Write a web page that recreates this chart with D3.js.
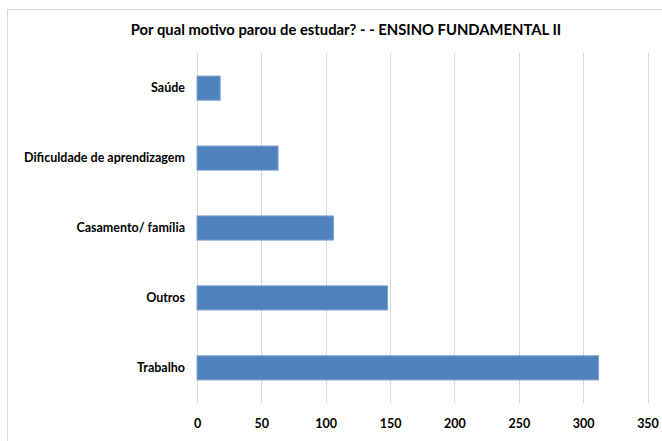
<!DOCTYPE html>
<html>
<head>
<meta charset="utf-8">
<script src="https://cdn.jsdelivr.net/npm/d3@7"></script>
<style>
  body { margin: 0; background: #fff; }
  text { font-family: Lato, "Open Sans", sans-serif; font-weight: bold; fill: #000; }
</style>
</head>
<body>
<div id="chart"></div>
<script>
// Data
const categories = ["Saúde", "Dificuldade de aprendizagem", "Casamento/ família", "Outros", "Trabalho"];
const values = [18, 63, 106, 148, 312];
const ticks = [0, 50, 100, 150, 200, 250, 300, 350];
const title = "Por qual motivo parou de estudar? - - ENSINO FUNDAMENTAL II";

const W = 662, H = 441;
const margin = { top: 53, right: 15, bottom: 38, left: 197 };
const width = 647.5 - margin.left;
const height = 403 - margin.top;

const svg = d3.select("#chart").append("svg")
  .attr("width", W)
  .attr("height", H);

// chart border
svg.append("rect")
  .attr("x", 7.5).attr("y", 9.5)
  .attr("width", 662).attr("height", 450)
  .attr("fill", "#fff")
  .attr("stroke", "#d9d9d9");

svg.append("text")
  .attr("x", 346).attr("y", 35)
  .attr("text-anchor", "middle")
  .style("font-size", "14.8px")
  .text(title);

const g = svg.append("g")
  .attr("transform", "translate(" + margin.left + "," + margin.top + ")");

const x = d3.scaleLinear().domain([0, 350]).range([0, width]);
const y = d3.scaleBand().domain(categories).range([0, height]).paddingInner(0.655).paddingOuter(0.33);

// gridlines
g.selectAll(".grid")
  .data(ticks)
  .enter()
  .append("line")
  .attr("x1", d => Math.round(x(d)) + 0.5)
  .attr("x2", d => Math.round(x(d)) + 0.5)
  .attr("y1", 0)
  .attr("y2", height)
  .attr("stroke", "#d9d9d9");

// bars
g.selectAll(".bar")
  .data(values)
  .enter()
  .append("rect")
  .attr("x", x(0))
  .attr("y", (d, i) => y(categories[i]))
  .attr("width", d => x(d) - x(0))
  .attr("height", y.bandwidth())
  .attr("fill", "#4f81bd")
  .attr("stroke", "#7fa2d2")
  .attr("stroke-width", 1);

// x axis labels
const xAxis = d3.axisBottom(x).tickValues(ticks).tickSize(0).tickPadding(16);
const xg = g.append("g")
  .attr("transform", "translate(0," + height + ")")
  .call(xAxis);
xg.select(".domain").remove();
xg.selectAll("text").style("font-size", "12.5px");

// y axis labels
const yAxis = d3.axisLeft(y).tickSize(0).tickPadding(12);
const yg = g.append("g").call(yAxis);
yg.select(".domain").remove();
yg.selectAll("text").style("font-size", "12.5px");
</script>
</body>
</html>
